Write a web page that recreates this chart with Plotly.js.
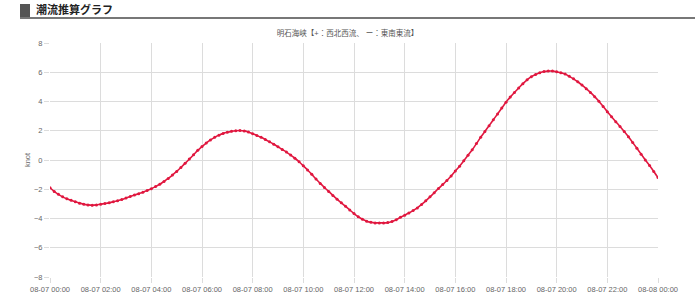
<!DOCTYPE html>
<html><head><meta charset="utf-8">
<script src="https://cdn.plot.ly/plotly-3.0.1.min.js"></script>
<style>
html,body{margin:0;padding:0;background:#fff;}
#wrap{position:relative;width:695px;height:300px;}
#chart{position:absolute;left:0;top:0;width:695px;height:300px;}
#hdr{position:absolute;left:20px;top:4px;width:675px;height:13px;border-bottom:2px solid #777;z-index:5;}
#hdr .sq{position:absolute;left:0;top:0;width:10px;height:13px;background:#555;}
#hdr .tx{position:absolute;left:16px;top:-1px;font:bold 11px "Liberation Sans","Noto Sans CJK JP",sans-serif;color:#222;line-height:14px;}
</style></head>
<body><div id="wrap"><div id="chart"></div><div id="hdr"><div class="sq"></div><div class="tx">潮流推算グラフ</div></div></div>
<script>
const pageTitle = "潮流推算グラフ";
const chartTitle = "明石海峡【+：西北西流、 ー：東南東流】";
const yTitle = "knot";
const startTime = "2024-08-07 00:00";
const stepMinutes = 10;
const speeds = [
 -1.90,-2.15,-2.35,-2.52,-2.65,-2.76,
 -2.86,-2.95,-3.02,-3.07,-3.10,-3.07,
 -3.02,-2.98,-2.93,-2.85,-2.78,-2.70,
 -2.60,-2.50,-2.40,-2.30,-2.20,-2.08,
 -1.96,-1.82,-1.66,-1.47,-1.26,-1.03,
 -0.78,-0.51,-0.23,0.06,0.36,0.66,
 0.92,1.16,1.37,1.55,1.70,1.82,
 1.90,1.96,2.00,2.02,1.99,1.92,
 1.80,1.68,1.55,1.40,1.24,1.08,
 0.90,0.72,0.54,0.34,0.12,-0.12,
 -0.40,-0.68,-0.98,-1.30,-1.60,-1.88,
 -2.15,-2.42,-2.68,-2.93,-3.17,-3.42,
 -3.66,-3.88,-4.05,-4.18,-4.26,-4.30,
 -4.30,-4.30,-4.28,-4.20,-4.08,-3.92,
 -3.77,-3.62,-3.46,-3.28,-3.04,-2.79,
 -2.52,-2.24,-1.95,-1.68,-1.40,-1.10,
 -0.75,-0.42,-0.05,0.32,0.70,1.12,
 1.55,1.95,2.35,2.75,3.15,3.55,
 3.95,4.30,4.62,4.92,5.22,5.48,
 5.70,5.85,5.97,6.05,6.08,6.08,
 6.04,5.97,5.88,5.72,5.55,5.35,
 5.12,4.88,4.62,4.33,4.01,3.66,
 3.30,2.96,2.62,2.29,1.95,1.59,
 1.20,0.80,0.40,0.00,-0.38,-0.78,
 -1.20
];
const yTicks = [-8,-6,-4,-2,0,2,4,6,8];

function pad(n){return (n<10?'0':'')+n;}
const base = new Date(2024,7,7,0,0);
const times = speeds.map((v,i)=>{
  const d = new Date(base.getTime()+i*stepMinutes*60000);
  return d.getFullYear()+'-'+pad(d.getMonth()+1)+'-'+pad(d.getDate())+' '+pad(d.getHours())+':'+pad(d.getMinutes());
});
const font = '"Liberation Sans","Noto Sans CJK JP",sans-serif';
const trace = {
  x: times, y: speeds, type:'scatter', mode:'lines+markers',
  line:{color:'#e0173f', width:1.6, shape:'spline', smoothing:0.6},
  marker:{color:'#e0173f', size:3},
  hoverinfo:'skip'
};
const layout = {
  width:695, height:300,
  margin:{l:50, r:37, t:43, b:23},
  paper_bgcolor:'#fff', plot_bgcolor:'#fff',
  showlegend:false,
  font:{family:font, size:7.5, color:'#666'},
  title:{text:chartTitle, x:0.5, xref:'container', y:1-33/300, yref:'container', yanchor:'middle', xanchor:'center', font:{family:font, size:7.5, color:'#555'}},
  xaxis:{type:'date', range:['2024-08-07 00:00','2024-08-08 00:00'], dtick:7200000, tick0:'2024-08-07 00:00',
    tickformat:'%m-%d %H:%M', showgrid:true, gridcolor:'#dcdcdc', gridwidth:1, zeroline:false,
    ticks:'outside', ticklen:5, tickcolor:'#dcdcdc', showline:false, tickfont:{size:7.5, color:'#666'}, fixedrange:true},
  yaxis:{range:[-8,8], tickvals:yTicks, showgrid:true, gridcolor:'#dcdcdc', gridwidth:1, zeroline:true, zerolinecolor:'#dcdcdc', zerolinewidth:1,
    ticks:'outside', ticklen:5, tickcolor:'#dcdcdc', showline:false, tickfont:{size:7.5, color:'#666'},
    title:{text:yTitle, standoff:2, font:{size:7.5, color:'#666'}}, fixedrange:true}
};
Plotly.newPlot('chart',[trace],layout,{staticPlot:true, displayModeBar:false});
</script></body></html>
